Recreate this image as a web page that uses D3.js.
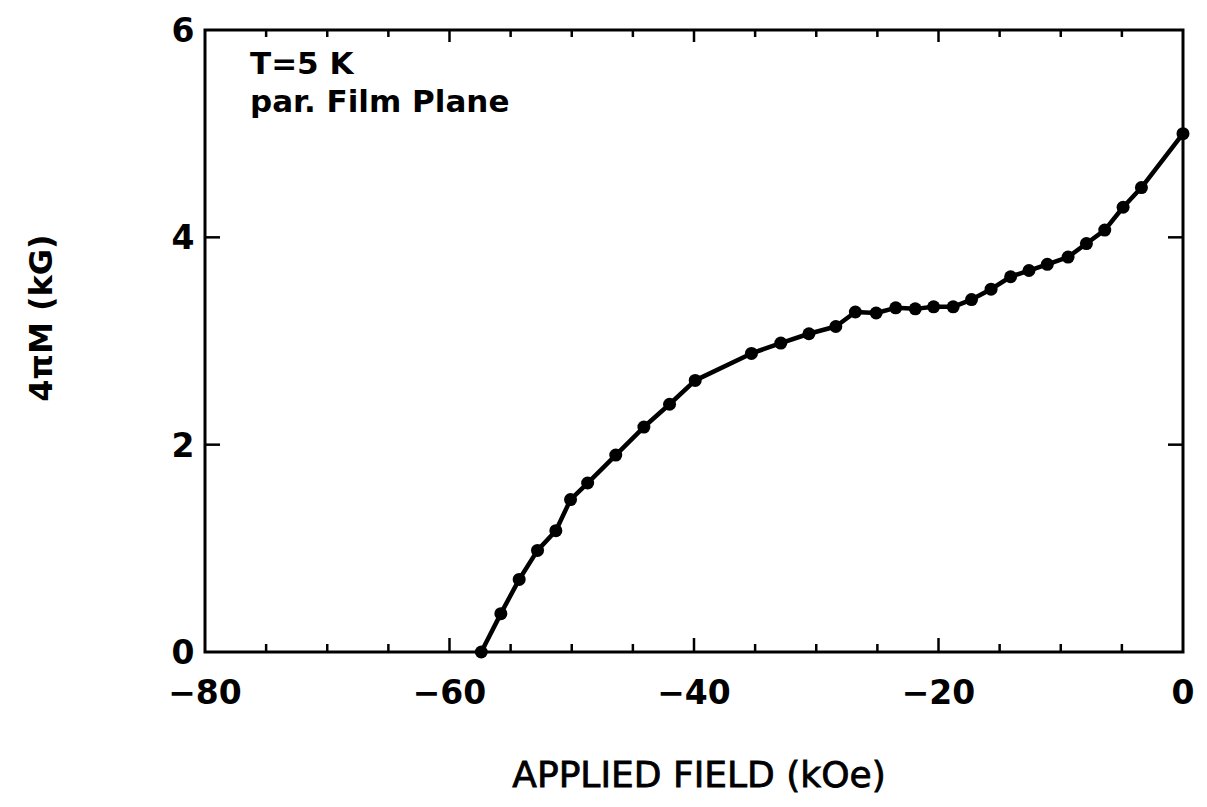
<!DOCTYPE html>
<html>
<head>
<meta charset="utf-8">
<script src="https://cdn.jsdelivr.net/npm/d3@7"></script>
<style>
  html, body { margin: 0; padding: 0; background: #fff; }
  svg { display: block; }
  text { fill: #000; }
</style>
</head>
<body>
<svg id="chart" width="1207" height="807"></svg>
<script>
// ---- data ----
const fieldKOe = [-57.4, -55.8, -54.3, -52.8, -51.3, -50.1, -48.7, -46.4, -44.1, -42.0, -39.9,
  -35.3, -32.9, -30.6, -28.4, -26.8, -25.1, -23.5, -21.9, -20.4, -18.8, -17.3, -15.7,
  -14.1, -12.6, -11.1, -9.4, -7.9, -6.4, -4.9, -3.4, 0.0];
const magnetization = [0.00, 0.37, 0.70, 0.98, 1.17, 1.47, 1.63, 1.90, 2.17, 2.39, 2.62,
  2.88, 2.98, 3.07, 3.14, 3.28, 3.27, 3.32, 3.31, 3.33, 3.33, 3.40, 3.50,
  3.62, 3.68, 3.74, 3.81, 3.94, 4.07, 4.29, 4.48, 5.00];
const xTickValues = [-80, -60, -40, -20, 0];
const xMinorTicks = d3.range(-75, 0, 5);
const yTickValues = [0, 2, 4, 6];
const annotationLines = ["T=5 K", "par. Film Plane"];
const xTitle = "APPLIED FIELD (kOe)";
const yTitle = "4πM (kG)";

// ---- layout ----
const svg = d3.select("#chart");
const L = 205, R = 1183, T = 30, B = 652;
const x = d3.scaleLinear().domain([-80, 0]).range([L, R]);
const y = d3.scaleLinear().domain([0, 6]).range([B, T]);
const font = "'DejaVu Sans', 'Liberation Sans', Arial, sans-serif";

// frame
svg.append("rect").attr("x", L).attr("y", T).attr("width", R - L).attr("height", B - T)
  .attr("fill", "none").attr("stroke", "#000").attr("stroke-width", 3);

// bottom axis ticks (inward)
svg.append("g").selectAll("line").data(xMinorTicks).join("line")
  .attr("x1", d => x(d)).attr("x2", d => x(d))
  .attr("y1", B).attr("y2", d => B - (d % 20 === 0 ? 14 : 8))
  .attr("stroke", "#000").attr("stroke-width", 2.5);
// top axis ticks (inward)
svg.append("g").selectAll("line").data(xMinorTicks).join("line")
  .attr("x1", d => x(d)).attr("x2", d => x(d))
  .attr("y1", T).attr("y2", d => T + (d % 20 === 0 ? 12 : 7))
  .attr("stroke", "#000").attr("stroke-width", 2.5);
// y ticks on left and right
const yMajorInner = yTickValues.filter(d => d > 0 && d < 6);
svg.append("g").selectAll("line").data(yMajorInner).join("line")
  .attr("x1", L).attr("x2", L + 15).attr("y1", d => y(d)).attr("y2", d => y(d))
  .attr("stroke", "#000").attr("stroke-width", 2.5);
svg.append("g").selectAll("line").data(yMajorInner).join("line")
  .attr("x1", R).attr("x2", R - 15).attr("y1", d => y(d)).attr("y2", d => y(d))
  .attr("stroke", "#000").attr("stroke-width", 2.5);

// tick labels
svg.append("g").selectAll("text").data(xTickValues).join("text")
  .attr("x", d => x(d)).attr("y", 704)
  .attr("text-anchor", "middle")
  .style("font-family", font).style("font-weight", "bold").style("font-size", "33px")
  .text(d => d === 0 ? "0" : "\u2212" + Math.abs(d));
svg.append("g").selectAll("text").data(yTickValues).join("text")
  .attr("x", 183).attr("y", d => y(d)).attr("dy", "0.36em")
  .attr("text-anchor", "middle")
  .style("font-family", font).style("font-weight", "bold").style("font-size", "33px")
  .text(d => d);

// axis titles
svg.append("text").attr("x", 699).attr("y", 787).attr("text-anchor", "middle")
  .style("font-family", font).style("font-size", "36px")
  .attr("stroke", "#000").attr("stroke-width", 0.8)
  .text(xTitle);
svg.append("text").attr("transform", "translate(52,318) rotate(-90)")
  .attr("text-anchor", "middle")
  .style("font-family", font).style("font-weight", "bold").style("font-size", "32px")
  .text(yTitle);

// annotation
svg.append("g").selectAll("text").data(annotationLines).join("text")
  .attr("x", 250).attr("y", (d, i) => 74 + i * 38)
  .style("font-family", font).style("font-weight", "bold").style("font-size", "31px")
  .text(d => d);

// data line + markers
const pts = fieldKOe.map((f, i) => [f, magnetization[i]]);
svg.append("path").datum(pts)
  .attr("d", d3.line().x(d => x(d[0])).y(d => y(d[1])))
  .attr("fill", "none").attr("stroke", "#000").attr("stroke-width", 4.5)
  .attr("stroke-linejoin", "round");
svg.append("g").selectAll("circle").data(pts).join("circle")
  .attr("cx", d => x(d[0])).attr("cy", d => y(d[1])).attr("r", 6.5)
  .attr("fill", "#000");
</script>
</body>
</html>
